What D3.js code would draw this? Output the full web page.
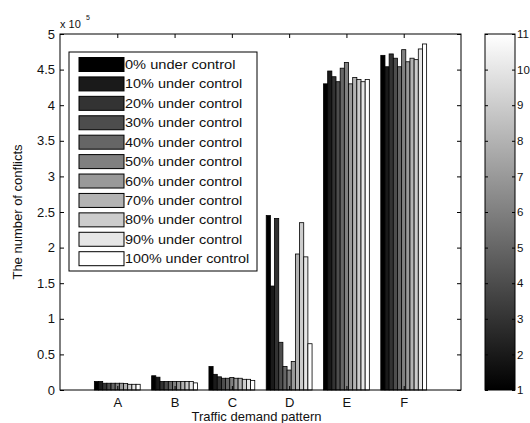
<!DOCTYPE html>
<html>
<head>
<meta charset="utf-8">
<script src="https://cdn.jsdelivr.net/npm/d3@7"></script>
<style>
  html, body { margin: 0; padding: 0; background: #fff; }
  svg text { font-family: "Liberation Sans", Arial, sans-serif; fill: #111; }
</style>
</head>
<body>
<svg id="chart" width="530" height="423"></svg>
<script>
// traffic demand patterns
let patterns = ["A", "B", "C", "D", "E", "F"];
// share of aircraft under control
let series = ["0% under control", "10% under control", "20% under control", "30% under control",
              "40% under control", "50% under control", "60% under control", "70% under control",
              "80% under control", "90% under control", "100% under control"];

// number of conflicts (x 10^5), one row per pattern, one value per series
let valA = [0.12, 0.12, 0.095, 0.095, 0.095, 0.095, 0.095, 0.09, 0.08, 0.08, 0.08];
let valB = [0.20, 0.18, 0.12, 0.12, 0.12, 0.12, 0.12, 0.12, 0.12, 0.12, 0.10];
let valC = [0.33, 0.22, 0.185, 0.165, 0.165, 0.175, 0.165, 0.165, 0.15, 0.15, 0.135];
let valD = [2.45, 1.46, 2.41, 0.67, 0.33, 0.28, 0.40, 1.91, 2.35, 1.87, 0.65];
let valE = [4.30, 4.48, 4.40, 4.33, 4.52, 4.60, 4.30, 4.39, 4.36, 4.33, 4.36];
let valF = [4.70, 4.54, 4.72, 4.66, 4.54, 4.78, 4.61, 4.66, 4.64, 4.79, 4.86];
let values = [valA, valB, valC, valD, valE, valF];

let yTicks = [0, 0.5, 1, 1.5, 2, 2.5, 3, 3.5, 4, 4.5, 5];
let yTickLabels = ["0", "0.5", "1", "1.5", "2", "2.5", "3", "3.5", "4", "4.5", "5"];
let cbTicks = [1, 2, 3, 4, 5, 6, 7, 8, 9, 10, 11];

let svg = d3.select("#chart");

let pLeft = 60, pRight = 461, pTop = 34, pBottom = 390;

let x = d3.scaleLinear().domain([0, 7]).range([pLeft, pRight]);
let y = d3.scaleLinear().domain([0, 5]).range([pBottom, pTop]);
// grey colormap, one level per series
let grey = d3.scaleLinear().domain([0, series.length - 1]).range(["#000000", "#ffffff"]);

let groupW = x(0.8) - x(0);
let inner = d3.scaleBand().domain(d3.range(series.length)).range([-groupW / 2, groupW / 2]);

/*bars*/
let bars = [];
values.forEach(function(row, g) {
    row.forEach(function(v, s) { bars.push({ g: g, s: s, v: v }); });
});

svg.append("g")
    .selectAll("rect")
      .data(bars)
    .enter().append("rect")
      .attr("x", function(d) { return x(d.g + 1) + inner(d.s) })
      .attr("y", function(d) { return y(d.v) })
      .attr("width", inner.bandwidth())
      .attr("height", function(d) { return y(0) - y(d.v) })
      .attr("fill", function(d) { return grey(d.s) })
      .attr("stroke", "#000")
      .attr("stroke-width", 0.8);

/*axes (matlab box, ticks inside)*/
let axL = d3.axisLeft(y).tickValues(yTicks).tickFormat(function(d, i) { return yTickLabels[i] })
    .tickSizeInner(-4).tickSizeOuter(0).tickPadding(5);
let axR = d3.axisRight(y).tickValues(yTicks).tickFormat("").tickSizeInner(-4).tickSizeOuter(0);
let axB = d3.axisBottom(x).tickValues(d3.range(1, 7)).tickFormat(function(d) { return patterns[d - 1] })
    .tickSizeInner(-4).tickSizeOuter(0).tickPadding(8);
let axT = d3.axisTop(x).tickValues(d3.range(1, 7)).tickFormat("").tickSizeInner(-4).tickSizeOuter(0);

let gL = svg.append("g").attr("transform", "translate(" + pLeft + ",0)").call(axL);
svg.append("g").attr("transform", "translate(" + pRight + ",0)").call(axR);
let gB = svg.append("g").attr("transform", "translate(0," + pBottom + ")").call(axB);
svg.append("g").attr("transform", "translate(0," + pTop + ")").call(axT);

svg.selectAll(".domain").remove();
svg.selectAll(".tick line").attr("stroke", "#000");
gL.selectAll("text").style("font-size", "13px").attr("fill", "#111");
gB.selectAll("text").style("font-size", "13px").attr("fill", "#111");

svg.append("rect")
    .attr("x", pLeft).attr("y", pTop)
    .attr("width", pRight - pLeft).attr("height", pBottom - pTop)
    .attr("fill", "none").attr("stroke", "#000").attr("stroke-width", 1);

/*labels*/
svg.append("text").attr("x", pLeft).attr("y", 28).style("font-size", "11px").text("x 10");
svg.append("text").attr("x", 86).attr("y", 20).style("font-size", "7px").text("5");

svg.append("text")
    .attr("transform", "translate(22," + ((pTop + pBottom) / 2) + ") rotate(-90)")
    .attr("text-anchor", "middle").style("font-size", "13px")
    .text("The number of conflicts");

svg.append("text")
    .attr("x", (pLeft + pRight) / 2 - 4).attr("y", 421)
    .attr("text-anchor", "middle").style("font-size", "13px")
    .text("Traffic demand pattern");

/*legend*/
let lg = svg.append("g");
lg.append("rect").attr("x", 69).attr("y", 52).attr("width", 188).attr("height", 219)
    .attr("fill", "#fff").attr("stroke", "#000").attr("stroke-width", 1);

let ly = d3.scalePoint().domain(series).range([64.5, 258.7]);
lg.selectAll("rect.sw")
    .data(series)
  .enter().append("rect")
    .attr("class", "sw")
    .attr("x", 79).attr("y", function(d) { return ly(d) - 7 })
    .attr("width", 45).attr("height", 14)
    .attr("fill", function(d, i) { return grey(i) })
    .attr("stroke", "#000").attr("stroke-width", 1);
lg.selectAll("text")
    .data(series)
  .enter().append("text")
    .attr("x", 125).attr("y", function(d) { return ly(d) + 4.5 })
    .attr("textLength", function(d) { return d.length * 6.9 })
    .attr("lengthAdjust", "spacingAndGlyphs")
    .style("font-size", "13px")
    .text(function(d) { return d });

/*colorbar*/
let defs = svg.append("defs");
let grad = defs.append("linearGradient").attr("id", "cbgrad")
    .attr("x1", 0).attr("y1", 1).attr("x2", 0).attr("y2", 0);
grad.append("stop").attr("offset", "0%").attr("stop-color", "#000");
grad.append("stop").attr("offset", "100%").attr("stop-color", "#fff");

let cbL = 485, cbR = 515;
let cy = d3.scaleLinear().domain([1, 11]).range([pBottom, pTop]);
svg.append("rect").attr("x", cbL).attr("y", cy(11)).attr("width", cbR - cbL).attr("height", cy(1) - cy(11))
    .attr("fill", "url(#cbgrad)");

let cbAxR = d3.axisRight(cy).tickValues(cbTicks).tickSizeInner(-3).tickSizeOuter(0).tickPadding(2);
let cbAxL = d3.axisLeft(cy).tickValues(cbTicks).tickFormat("").tickSizeInner(-3).tickSizeOuter(0);
let gcb = svg.append("g").attr("transform", "translate(" + cbR + ",0)").call(cbAxR);
let gcb2 = svg.append("g").attr("transform", "translate(" + cbL + ",0)").call(cbAxL);
gcb.select(".domain").remove();
gcb2.select(".domain").remove();
gcb.selectAll(".tick line").attr("stroke", "#000");
gcb2.selectAll(".tick line").attr("stroke", "#000");
gcb.selectAll("text").style("font-size", "11.5px").attr("fill", "#111");

svg.append("rect").attr("x", cbL).attr("y", cy(11)).attr("width", cbR - cbL).attr("height", cy(1) - cy(11))
    .attr("fill", "none").attr("stroke", "#000").attr("stroke-width", 1);
</script>
</body>
</html>
